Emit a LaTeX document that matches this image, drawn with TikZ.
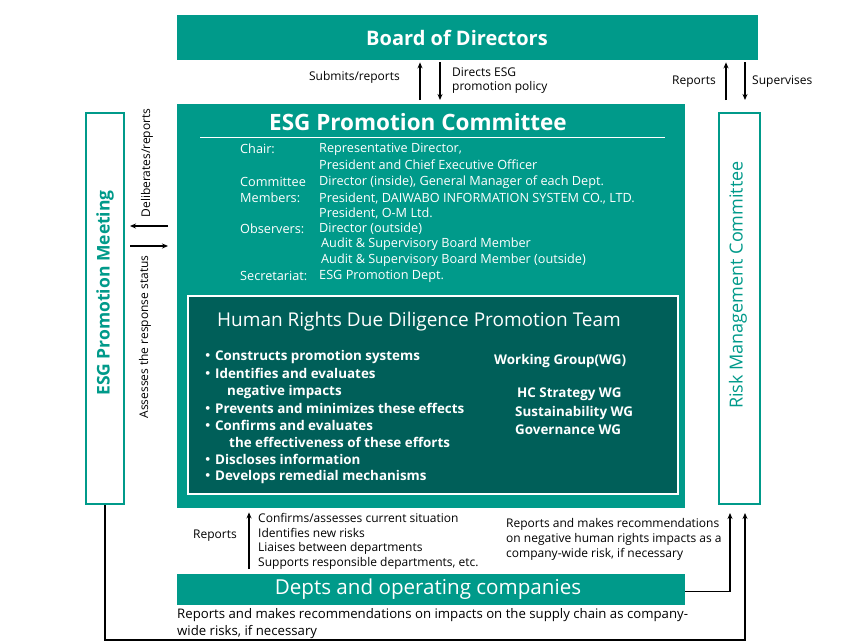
\documentclass[tikz,border=0pt]{standalone}
\usepackage{fontspec}
\setmainfont{Open Sans}
\newfontfamily\cjk{Noto Sans CJK JP}
\usetikzlibrary{arrows.meta,calc}
\definecolor{tealA}{RGB}{0,154,138}
\definecolor{tealB}{RGB}{0,95,89}
\newcommand{\bdot}{{\cjk\fontseries{b}\selectfont ・}}
\begin{document}
\begin{tikzpicture}[x=1pt,y=-1pt,
  filled/.style={fill=tealA,draw=none,inner sep=0,anchor=north west},
  outlined/.style={fill=white,draw=tealA,line width=2pt,inner sep=0,anchor=north west},
  small/.style={inner sep=0,font=\fontsize{12}{14}\selectfont},
  det/.style={inner sep=0,anchor=west,text=white,font=\fontsize{12.7}{14}\selectfont},
  bul/.style={inner sep=0,anchor=west,text=white,font=\bfseries\fontsize{13.4}{15}\selectfont},
  arr/.style={line width=1.5pt,-{Stealth[length=6pt,width=5pt]}},
  conn/.style={line width=1.5pt},
]
\useasboundingbox (0,0) rectangle (853,643);

% Board
\node[filled,minimum width=581pt,minimum height=45pt] (bd) at (177,15) {};
\node[inner sep=0,text=white,font=\bfseries\fontsize{20}{24}\selectfont] (bdt) at (457,38) {Board of Directors};

% ESG committee
\node[filled,minimum width=508pt,minimum height=404pt] (cm) at (177,104) {};
\node[inner sep=0,text=white,font=\bfseries\fontsize{22.5}{26}\selectfont] (cmt) at (418,122) {ESG Promotion Committee};
\coordinate (rl) at (200,137);
\coordinate (rr) at (665,137);
\draw[white,line width=1pt] (rl) -- (rr);

% details
\node[det] (d1) at (240,149) {Chair:};
\node[det] (d1b) at (319,149) {Representative Director,};
\node[det] (d2b) at (319,165) {President and Chief Executive Officer};
\node[det] (d3) at (240,182) {Committee};
\node[det] (d3b) at (319,182) {Director (inside), General Manager of each Dept.};
\node[det] (d4) at (240,198) {Members:};
\node[det] (d4b) at (319,198) {President, DAIWABO INFORMATION SYSTEM CO., LTD.};
\node[det] (d5b) at (319,213) {President, O-M Ltd.};
\node[det] (d6) at (240,229) {Observers:};
\node[det] (d6b) at (319,229) {Director (outside)};
\node[det] (d7b) at (321,244) {Audit \& Supervisory Board Member};
\node[det] (d8b) at (321,260) {Audit \& Supervisory Board Member (outside)};
\node[det] (d9) at (240,276) {Secretariat:};
\node[det] (d9b) at (319,276) {ESG Promotion Dept.};

% Team
\node[fill=tealB,draw=white,line width=2pt,inner sep=0,anchor=north west,minimum width=490pt,minimum height=198pt] (tm) at (187,295) {};
\node[inner sep=0,text=white,font=\fontsize{19}{22}\selectfont] (tmt) at (419,322) {Human Rights Due Diligence Promotion Team};
\node[bul] (b1) at (201,357) {\bdot\kern0.5pt Constructs promotion systems};
\node[bul] (b2) at (201,373) {\bdot\kern0.5pt Identifies and evaluates};
\node[bul] (b2b) at (227,392) {negative impacts};
\node[bul] (b3) at (201,408) {\bdot\kern0.5pt Prevents and minimizes these effects};
\node[bul] (b4) at (201,425) {\bdot\kern0.5pt Confirms and evaluates};
\node[bul] (b4b) at (229,442) {the effectiveness of these efforts};
\node[bul] (b5) at (201,459) {\bdot\kern0.5pt Discloses information};
\node[bul] (b6) at (201,477) {\bdot\kern0.5pt Develops remedial mechanisms};
\node[bul] (w0) at (494,361) {Working Group(WG)};
\node[bul] (w1) at (517,394) {HC Strategy WG};
\node[bul] (w2) at (515,413) {Sustainability WG};
\node[bul] (w3) at (515,430) {Governance WG};

% Side boxes
\node[outlined,minimum width=38pt,minimum height=391pt] (mt) at (85,112) {};
\node[inner sep=0,rotate=90,text=tealA,font=\bfseries\fontsize{17.5}{20}\selectfont] (mtt) at (105,293) {ESG Promotion Meeting};
\node[outlined,minimum width=41pt,minimum height=391pt] (rk) at (718,112) {};
\node[inner sep=0,rotate=90,text=tealA,font=\fontsize{18}{20}\selectfont] (rkt) at (738,285) {Risk Management Committee};

% Depts
\node[filled,minimum width=508pt,minimum height=31pt] (dp) at (177,574) {};
\node[inner sep=0,text=white,font=\fontsize{20.6}{24}\selectfont] (dpt) at (428,589) {Depts and operating companies};

% Board <-> Committee arrows
\coordinate (xa) at (420,0);
\coordinate (xb) at (440,0);
\coordinate (xc) at (726,0);
\coordinate (xd) at (745,0);
\draw[arr] ($(cm.north -| xa)+(0,-4)$) -- ($(bd.south -| xa)+(0,2)$);
\draw[arr] ($(bd.south -| xb)+(0,2)$) -- ($(cm.north -| xb)+(0,-4)$);
\draw[arr] ($(cm.north -| xc)+(0,-4)$) -- ($(bd.south -| xc)+(0,2)$);
\draw[arr] ($(bd.south -| xd)+(0,2)$) -- ($(cm.north -| xd)+(0,-4)$);
\node[small,anchor=east] (l1) at (400,77) {Submits/reports};
\node[small,anchor=west] (l2) at (452,72) {Directs ESG};
\node[small,anchor=west] (l3) at (452,87) {promotion policy};
\node[small,anchor=east] (l4) at (716,82) {Reports};
\node[small,anchor=west] (l5) at (752,82) {Supervises};

% Meeting <-> Committee arrows
\coordinate (ya) at (0,226);
\coordinate (yb) at (0,246);
\draw[arr] ($(cm.west |- ya)+(-9,0)$) -- ($(mt.east |- ya)+(5,0)$);
\draw[arr] ($(mt.east |- yb)+(5,0)$) -- ($(cm.west |- yb)+(-9,0)$);
\node[small,rotate=90] (l6) at (147,163) {Deliberates/reports};
\node[small,rotate=90] (l7) at (145,337) {Assesses the response status};

% Depts -> Committee
\coordinate (xe) at (249,0);
\draw[arr] ($(dp.north -| xe)+(0,-5)$) -- ($(cm.south -| xe)+(0,4)$);
\node[small,anchor=east] (l8) at (237,536) {Reports};
\node[small,anchor=west] (c1) at (258,518) {Confirms/assesses current situation};
\node[small,anchor=west] (c2) at (258,533) {Identifies new risks};
\node[small,anchor=west] (c3) at (258,548) {Liaises between departments};
\node[small,anchor=west] (c4) at (258,563) {Supports responsible departments, etc.};
\node[small,anchor=west] (r1) at (506,524) {Reports and makes recommendations};
\node[small,anchor=west] (r2) at (506,539) {on negative human rights impacts as a};
\node[small,anchor=west] (r3) at (506,554) {company-wide risk, if necessary};
\node[small,anchor=west,font=\fontsize{13.2}{15}\selectfont] (s1) at (177,615) {Reports and makes recommendations on impacts on the supply chain as company-};
\node[small,anchor=west,font=\fontsize{13.2}{15}\selectfont] (s2) at (177,632) {wide risks, if necessary};

% Depts -> Risk
\coordinate (xf) at (730,0);
\coordinate (xg) at (745,0);
\coordinate (yl) at (0,640);
\draw[conn,-{Stealth[length=6pt,width=5pt]}] (dp.east |- 0,591.5) -| ($(rk.south -| xf)+(0,8)$);
% Meeting -> Risk
\coordinate (xm) at (105,0);
\draw[conn,-{Stealth[length=6pt,width=5pt]}] (mt.south -| xm) |- (yl -| xg) -- ($(rk.south -| xg)+(0,8)$);
\end{tikzpicture}
\end{document}
